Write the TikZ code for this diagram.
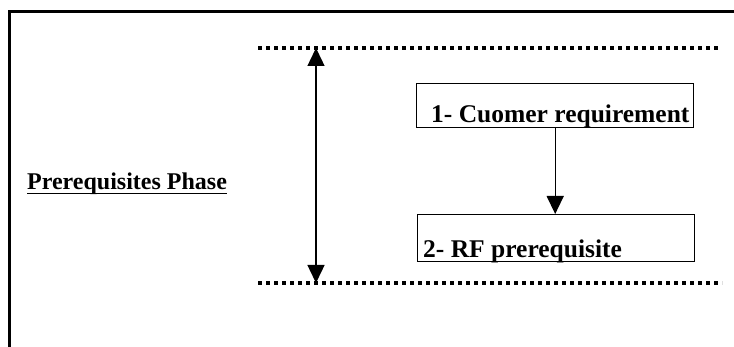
\documentclass[tikz,border=0pt]{standalone}
\usepackage{fontspec}
\setmainfont{Liberation Serif}
\usetikzlibrary{arrows.meta}

\tikzset{
  box/.style = {draw, line width = 1.4pt, minimum width = 277pt, minimum height = 44pt,
    inner sep = 0pt, anchor = north west},
  lbl/.style = {font = \fontsize{24}{28}\selectfont\bfseries, inner sep = 0pt, anchor = base west},
  steplbl/.style = {lbl, font = \fontsize{25.5}{30}\selectfont\bfseries},
  dots/.style = {line width = 4pt, dash pattern = on 4pt off 4pt},
  tip/.style = {line width = 1.4pt, -{Triangle[length = 18pt, width = 17pt]}},
  bothtips/.style = {line width = 1.4pt,
    {Triangle[length = 18pt, width = 17pt]}-{Triangle[length = 18pt, width = 17pt]}}
}

\begin{document}
\begin{tikzpicture}[x = 1pt, y = -1pt]
  \useasboundingbox (0,0) rectangle (734,347);

  % frame
  \draw[line width = 3pt] (9,347) -- (9,12) -- (734,12);

  % phase limits
  \coordinate (top) at (316,48);
  \coordinate (bot) at (316,283);
  \draw[dots] (258,48) -- (720,48);
  \draw[dots] (258,283) -- (722,283);
  \draw[bothtips] (top) -- (bot);

  \node[lbl] (phase) at (27,190) {Prerequisites Phase};
  \draw[line width = 1.5pt] ([yshift = -3.5pt]phase.base west) -- ([yshift = -3.5pt]phase.base east);

  % steps
  \node[box] (req) at (416,83) {};
  \node[steplbl, xshift = 15pt, yshift = 6pt] (reqtxt) at (req.south west) {1- Cuomer requirement};

  \node[box, minimum height = 47pt] (rf) at (417,214) {};
  \node[steplbl, xshift = 6pt, yshift = 5pt] (rftxt) at (rf.south west) {2- RF prerequisite};

  \draw[tip] (req.south) -- (req.south |- rf.north);
\end{tikzpicture}
\end{document}
